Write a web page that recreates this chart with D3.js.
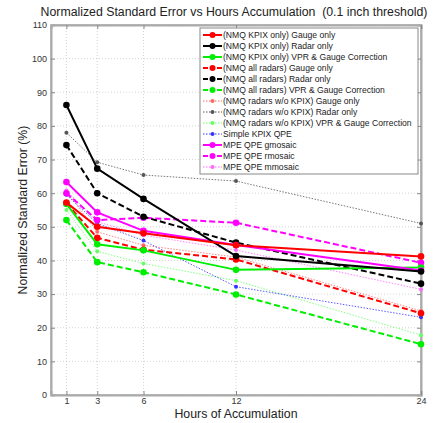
<!DOCTYPE html>
<html><head><meta charset="utf-8">
<script src="https://cdn.jsdelivr.net/npm/d3@7"></script>
<style>body{margin:0;background:#fff;} svg{display:block;font-family:"Liberation Sans",Arial,sans-serif;}</style>
</head><body>
<script>
const hours = [1, 3, 6, 12, 24];
const xTicks = [1, 3, 6, 12, 24];
const yTicks = [0,10,20,30,40,50,60,70,80,90,100,110];
const seriesNames = [
  "(NMQ KPIX only) Gauge only",
  "(NMQ KPIX only) Radar only",
  "(NMQ KPIX only) VPR & Gauge Correction",
  "(NMQ all radars) Gauge only",
  "(NMQ all radars) Radar only",
  "(NMQ all radars) VPR & Gauge Correction",
  "(NMQ radars w/o KPIX) Gauge only",
  "(NMQ radars w/o KPIX) Radar only",
  "(NMQ radars w/o KPIX) VPR & Gauge Correction",
  "Simple KPIX QPE",
  "MPE QPE gmosaic",
  "MPE QPE rmosaic",
  "MPE QPE mmosaic"
];
const kpixGauge   = [57.2, 50.0, 48.1, 44.5, 41.2];
const kpixRadar   = [86.2, 67.3, 58.3, 41.3, 36.7];
const kpixVpr     = [56.8, 44.8, 43.0, 37.2, 37.9];
const allGauge    = [57.0, 46.7, 43.2, 40.3, 24.3];
const allRadar    = [74.3, 60.0, 53.0, 45.3, 33.1];
const allVpr      = [52.0, 39.5, 36.5, 29.9, 15.1];
const woGauge     = [60.5, 48.5, 44.5, 41.0, 25.0];
const woRadar     = [78.0, 69.2, 65.4, 63.6, 51.0];
const woVpr       = [55.0, 42.7, 39.1, 34.0, 17.8];
const simpleKpix  = [59.5, 51.0, 45.9, 32.2, 23.1];
const gmosaic     = [63.3, 54.3, 48.8, 44.6, 37.0];
const rmosaic     = [60.0, 52.0, 52.7, 51.2, 39.3];
const mmosaic     = [60.8, 51.5, 47.5, 43.1, 31.4];
const seriesValues = [kpixGauge,kpixRadar,kpixVpr,allGauge,allRadar,allVpr,woGauge,woRadar,woVpr,simpleKpix,gmosaic,rmosaic,mmosaic];
const seriesColors = ["#ff0000","#000000","#00ee00","#ff0000","#000000","#00ee00","#ff6666","#555555","#66ff66","#3333ff","#ff00ff","#ff00ff","#ff66ff"];
const seriesStyles = ["solid","solid","solid","dashed","dashed","dashed","dotted","dotted","dotted","dotted","solid","dashed","dotted"];

const W = 434, H = 423;
const m = {l:51, r:13, t:25, b:28};
const svg = d3.select("body").append("svg").attr("width", W).attr("height", H);
const x = d3.scaleLinear().domain([0,24]).range([m.l, W - m.r]);
const y = d3.scaleLinear().domain([0,110]).range([H - m.b, m.t]);

// grid
const g = svg.append("g");
g.selectAll(".gx").data(xTicks).enter().append("line")
  .attr("x1", d=>x(d)).attr("x2", d=>x(d)).attr("y1", y(0)).attr("y2", y(110))
  .attr("stroke","#c8c8c8").attr("stroke-width",0.8).attr("stroke-dasharray","1,2");
g.selectAll(".gy").data(yTicks).enter().append("line")
  .attr("y1", d=>y(d)).attr("y2", d=>y(d)).attr("x1", x(0)).attr("x2", x(24))
  .attr("stroke","#c8c8c8").attr("stroke-width",0.8).attr("stroke-dasharray","1,2");

// box
svg.append("rect").attr("x", x(0)).attr("y", y(110)).attr("width", x(24)-x(0)).attr("height", y(0)-y(110))
  .attr("fill","none").attr("stroke","#999").attr("stroke-width",1.2);

// axes
const axL = svg.append("g").attr("transform",`translate(${x(0)},0)`)
  .call(d3.axisLeft(y).tickValues(yTicks).tickSize(-4).tickPadding(4).tickFormat(d3.format("d")));
const axR = svg.append("g").attr("transform",`translate(${x(24)},0)`)
  .call(d3.axisRight(y).tickValues(yTicks).tickSize(-4).tickFormat(""));
const axB = svg.append("g").attr("transform",`translate(0,${y(0)})`)
  .call(d3.axisBottom(x).tickValues(xTicks).tickSize(-4).tickPadding(3).tickFormat(d3.format("d")));
const axT = svg.append("g").attr("transform",`translate(0,${y(110)})`)
  .call(d3.axisTop(x).tickValues(xTicks).tickSize(-4).tickFormat(""));
[axL,axR,axB,axT].forEach(a=>{
  a.select(".domain").attr("stroke","#aaa").attr("stroke-width",2);
  a.selectAll(".tick line").attr("stroke","#888");
  a.selectAll("text").attr("fill","#333").style("font-size","9px");
});

// lines
const dashFor = s => s==="dashed" ? "6,3" : (s==="dotted" ? "1.5,1.5" : null);
const widthFor = s => s==="dotted" ? 1 : 2;
const line = d3.line().x((d,i)=>x(hours[i])).y(d=>y(d));
const order = [8,7,6,9,12,11,5,4,3,2,10,1,0];
order.forEach(k=>{
  const s = seriesStyles[k];
  svg.append("path").datum(seriesValues[k]).attr("d", line)
    .attr("fill","none").attr("stroke", seriesColors[k]).attr("stroke-width", widthFor(s))
    .attr("stroke-dasharray", dashFor(s)).attr("opacity", s==="dotted"?0.8:1);
  svg.selectAll(null).data(seriesValues[k]).enter().append("circle")
    .attr("cx",(d,i)=>x(hours[i])).attr("cy",d=>y(d))
    .attr("r", s==="dotted"?2:3.3).attr("fill", seriesColors[k]);
});

// legend
const lg = svg.append("g");
const lx = 200, ly = 28, lw = 218, rowH = 11;
lg.append("rect").attr("x", lx).attr("y", ly).attr("width", lw).attr("height", rowH*seriesNames.length + 3)
  .attr("fill","#fff").attr("stroke","#888").attr("stroke-width",1);
seriesNames.forEach((n,k)=>{
  const cy = ly + 7 + k*rowH;
  const s = seriesStyles[k];
  lg.append("line").attr("x1", lx+3).attr("x2", lx+22).attr("y1", cy).attr("y2", cy)
    .attr("stroke", seriesColors[k]).attr("stroke-width", widthFor(s)).attr("stroke-dasharray", dashFor(s)==="6,3"?"5,2":dashFor(s));
  lg.append("circle").attr("cx", lx+12.5).attr("cy", cy).attr("r", s==="dotted"?2:3).attr("fill", seriesColors[k]);
  lg.append("text").attr("x", lx+23).attr("y", cy+3.3).text(n).attr("fill","#222").style("font-size","8.6px");
});

// titles
svg.append("text").attr("x", 234).attr("y", 16).attr("text-anchor","middle").attr("xml:space","preserve")
  .style("white-space","pre").style("font-size","12.3px").attr("fill","#222").text("Normalized Standard Error vs Hours Accumulation  (0.1 inch threshold)");
svg.append("text").attr("x", (x(0)+x(24))/2).attr("y", 418).attr("text-anchor","middle")
  .style("font-size","12.3px").attr("fill","#222").text("Hours of Accumulation");
svg.append("text").attr("transform", `translate(27,${(y(0)+y(110))/2}) rotate(-90)`).attr("text-anchor","middle")
  .style("font-size","12.3px").attr("fill","#222").text("Normalized Standard Error (%)");
</script>
</body></html>
